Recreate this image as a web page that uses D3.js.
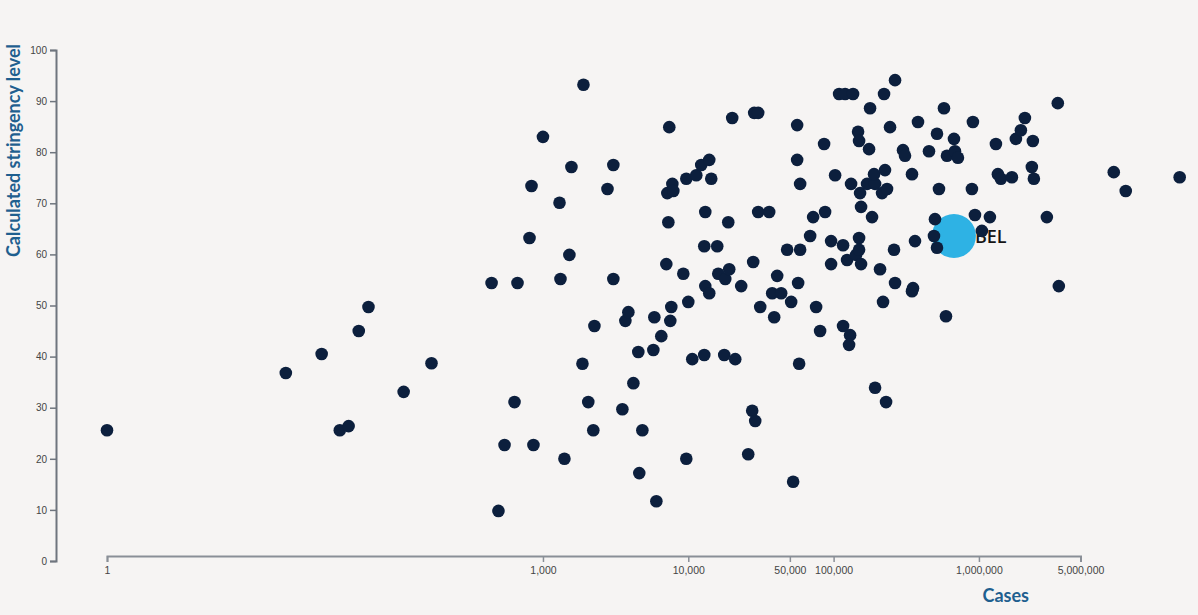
<!DOCTYPE html>
<html>
<head>
<meta charset="utf-8">
<script src="https://cdn.jsdelivr.net/npm/d3@7"></script>
<style>
  html, body { margin: 0; padding: 0; background: #f6f4f3; }
  svg { display: block; }
</style>
</head>
<body>
<svg id="chart" width="1198" height="615"></svg>
<script>
// ---- Data ----
const xTickValues = [1, 1000, 10000, 50000, 100000, 1000000, 5000000];
const yTickValues = [0, 10, 20, 30, 40, 50, 60, 70, 80, 90, 100];

const cases = [
  1, 17, 30, 40, 46, 54, 63, 110, 171, 443, 494, 544, 637, 668, 808, 834, 860, 1000,
  1300, 1320, 1405, 1520, 1570, 1900, 1870, 2050, 2220, 2260, 2780, 3050, 3050, 3520,
  3690, 3870, 4190, 4530, 4600, 4830, 5750, 5840, 6030,
  6520, 7060, 7290, 7400, 7640, 7520, 7770, 7170, 7890, 9240, 9690, 9690, 10000, 10650,
  11350, 12280, 12880, 12880, 13090, 13090, 13940, 13940, 14390, 15820, 16080, 17680,
  17960, 18840, 19130, 20060, 21040, 23130, 25850, 27540, 28880, 27970, 28420, 30280,
  30280, 36030,
  31260, 37790, 43570, 39010, 40900, 47900, 58850, 51050, 52680, 56130, 56130, 57000,
  57900, 58850, 68950, 72300, 75800, 80750, 86000, 87400, 96100, 96100, 102400, 109100,
  120000, 136100, 116200, 116200, 123800, 129900, 127800, 131900, 142800, 149700, 149700,
  147400, 149700, 152100, 154500, 154500, 169900, 192900, 175400, 178200, 183900, 189800,
  192900, 208700, 215400, 222400, 225900, 229600, 233200, 218900, 244500, 260500, 264700,
  264700,
  300400, 310000, 346300, 351800, 346300, 363200, 380800, 453200, 498400, 490600, 514500,
  514500, 531000, 574700, 593200, 602700, 673300, 684100, 717000, 895000, 909000, 939000,
  1190000, 1048000, 1309000, 1351000, 1416000, 1686000, 1796000, 1944000, 2071000,
  2313000, 2388000, 2350000, 2934000, 3490000, 3546000, 8470000, 10240000, 24070000
];
const stringency = [
  25.6, 36.8, 40.5, 25.6, 26.4, 45.0, 49.7, 33.1, 38.7, 54.4, 9.8, 22.7, 31.1, 54.4, 63.2, 73.4, 22.7, 83.0,
  70.1, 55.2, 20.0, 59.9, 77.1, 93.2, 38.6, 31.1, 25.6, 46.0, 72.8, 77.5, 55.2, 29.7,
  47.0, 48.7, 34.8, 40.9, 17.2, 25.6, 41.3, 47.7, 11.7,
  44.0, 58.1, 66.3, 84.9, 49.7, 47.0, 73.8, 72.0, 72.4, 56.2, 74.8, 20.0, 50.7, 39.5,
  75.5, 77.5, 40.3, 61.6, 68.3, 53.8, 52.4, 78.5, 74.8, 61.6, 56.2, 40.3,
  55.2, 66.3, 57.1, 86.7, 39.5, 53.8, 20.9, 29.4, 27.4, 58.5, 87.7, 87.7,
  68.3, 68.3,
  49.7, 52.4, 52.4, 47.7, 55.8, 60.9, 60.9, 50.7, 15.5, 85.3, 78.5, 54.4,
  38.6, 73.8, 63.6, 67.3, 49.7, 45.0, 81.6, 68.3, 62.6, 58.1, 75.5, 91.4,
  91.4, 91.4, 61.8, 46.0, 58.9, 44.2, 42.3, 73.8, 59.9, 63.2, 60.9,
  84.0, 82.2, 72.0, 58.1, 69.3, 73.8, 73.8, 80.6, 88.6, 67.3, 75.7,
  33.9, 57.1, 72.0, 91.4, 76.5, 31.1, 72.8, 50.7, 84.9, 60.9, 94.1,
  54.4,
  80.4, 79.3, 75.7, 53.4, 52.8, 62.6, 85.9, 80.2, 66.9, 63.6, 61.3,
  83.6, 72.8, 88.6, 47.9, 79.3, 82.6, 80.2, 78.9, 72.8, 85.9, 67.7,
  67.3, 64.6, 81.6, 75.7, 74.8, 75.1, 82.6, 84.3, 86.7,
  77.1, 74.8, 82.2, 67.3, 89.6, 53.8, 76.1, 72.4, 75.1
];

const highlightCodes = ["BEL"];
const highlightCases = [673000];
const highlightStringency = [63.6];

const xTitle = "Cases";
const yTitle = "Calculated stringency level";

// ---- Chart ----
const svg = d3.select("#chart");

const x = d3.scaleLog().domain([1, 5000000]).range([107, 1080.5]);
const y = d3.scaleLinear().domain([0, 100]).range([561, 50]);

// X axis
const xAxis = svg.append("g")
  .attr("transform", "translate(0,556)")
  .call(d3.axisBottom(x).tickValues(xTickValues).tickFormat(d3.format(",")).tickSize(6));
xAxis.select(".domain").attr("stroke", "#8a8f97").attr("stroke-width", 2);
xAxis.selectAll(".tick line").attr("stroke", "#8a8f97").attr("stroke-width", 1.5);
xAxis.selectAll(".tick text")
  .attr("fill", "#444")
  .attr("font-family", "'Liberation Sans', Arial, sans-serif")
  .attr("font-size", 10.5)
  .attr("dy", "0.9em");

// Y axis
const yAxis = svg.append("g")
  .attr("transform", "translate(56,0)")
  .call(d3.axisLeft(y).tickValues(yTickValues).tickSize(6));
yAxis.select(".domain").attr("stroke", "#6f757e").attr("stroke-width", 2);
yAxis.selectAll(".tick line").attr("stroke", "#6f757e").attr("stroke-width", 1.5);
yAxis.selectAll(".tick text")
  .attr("fill", "#444")
  .attr("font-family", "'Liberation Sans', Arial, sans-serif")
  .attr("font-size", 10);

// Axis titles
svg.append("text")
  .attr("transform", "translate(20,44) rotate(-90)")
  .attr("text-anchor", "end")
  .attr("fill", "#1f5f8f")
  .attr("font-family", "Lato, sans-serif")
  .attr("font-weight", 700)
  .attr("font-size", 18)
  .text(yTitle);

svg.append("text")
  .attr("x", 1029)
  .attr("y", 602)
  .attr("text-anchor", "end")
  .attr("fill", "#1f5f8f")
  .attr("font-family", "Lato, sans-serif")
  .attr("font-weight", 700)
  .attr("font-size", 18)
  .text(xTitle);

// Highlighted country
const hl = highlightCodes.map((c, i) => ({ code: c, cases: highlightCases[i], s: highlightStringency[i] }));
svg.append("g").selectAll("circle").data(hl).join("circle")
  .attr("cx", d => x(d.cases))
  .attr("cy", d => y(d.s))
  .attr("r", 22)
  .attr("fill", "#2eb2e4");
svg.append("g").selectAll("text").data(hl).join("text")
  .attr("x", d => x(d.cases) + 21)
  .attr("y", d => y(d.s) + 7)
  .attr("fill", "#151515")
  .attr("font-family", "'Open Sans', sans-serif")
  .attr("font-weight", 600)
  .attr("font-size", 18)
  .text(d => d.code);

// Points
const pts = cases.map((c, i) => ({ c, s: stringency[i] }));
svg.append("g").selectAll("circle").data(pts).join("circle")
  .attr("cx", d => x(d.c))
  .attr("cy", d => y(d.s))
  .attr("r", 6.3)
  .attr("fill", "#0c1f3d");
</script>
</body>
</html>
